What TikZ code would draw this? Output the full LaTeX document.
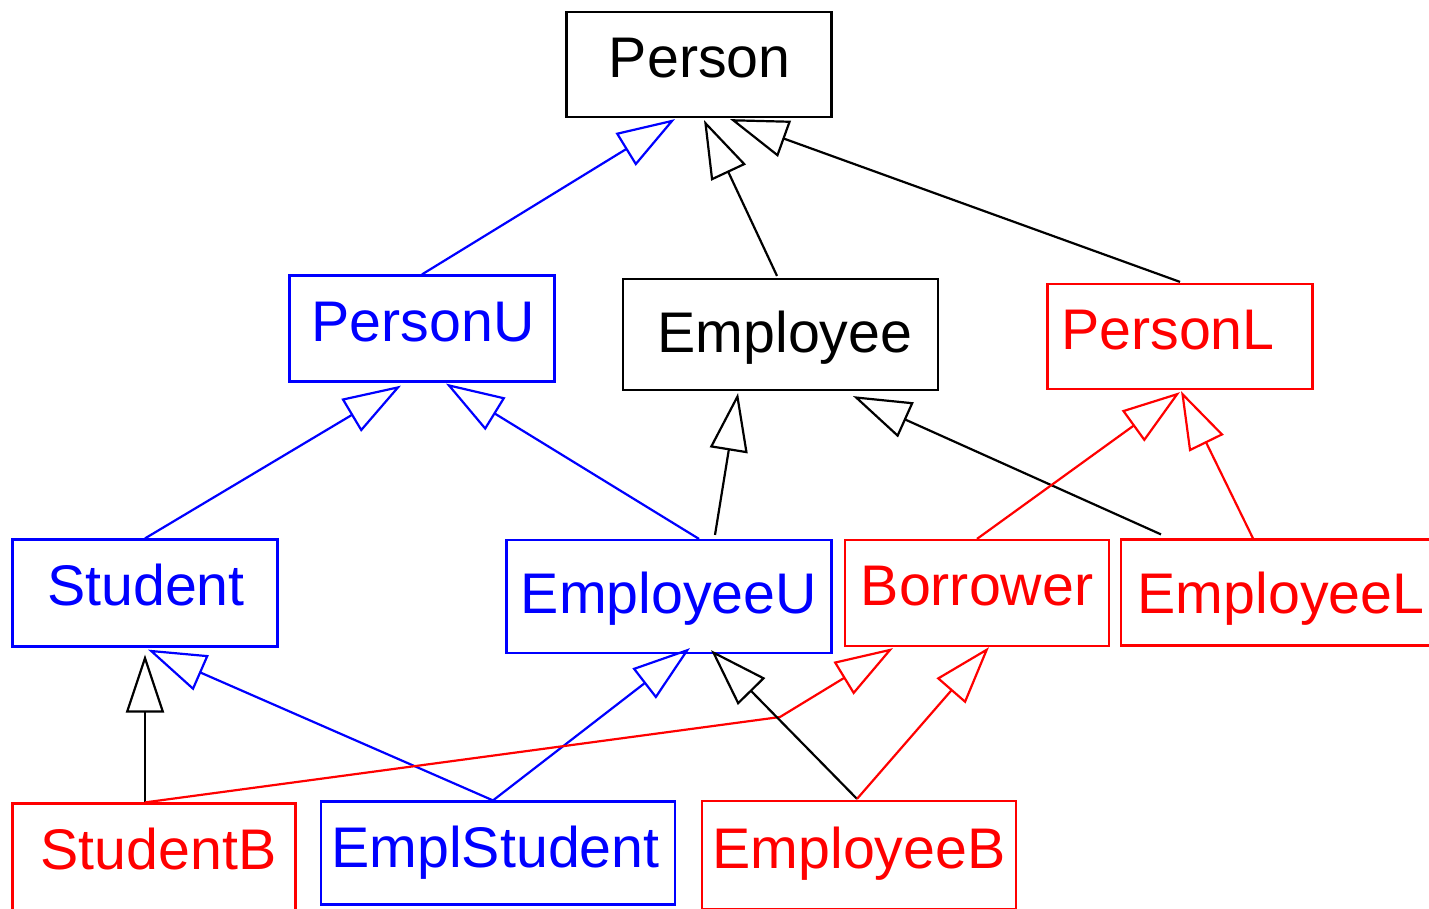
\documentclass[tikz,border=0pt]{standalone}
\usepackage{fontspec}
\setmainfont{Liberation Sans}
\usetikzlibrary{arrows.meta,calc}
\definecolor{cblue}{RGB}{0,0,255}
\definecolor{cred}{RGB}{255,0,0}
\begin{document}
\begin{tikzpicture}[x=1pt,y=-1pt,
  cls/.style={draw, rectangle, line width=2.2pt, inner sep=0pt, text depth=0pt,
    font=\fontsize{57.3pt}{68pt}\selectfont},
  inh/.style={line width=2.2pt, -{Triangle[open, length=58pt, width=38pt]}}]
\useasboundingbox (0,0) rectangle (1429,908);
\clip (0,0) rectangle (1429,908);
% classes
\node[cls, minimum width=265, minimum height=105, text height=25.4pt] (person) at (699,64.5) {\hspace*{1.4pt}Person};
\node[cls, cblue, minimum width=265, minimum height=106, text height=25.6pt] (personU) at (422,328.5) {\hspace*{2pt}PersonU};
\node[cls, minimum width=315, minimum height=111, text height=36pt] (employee) at (780.5,334.5) {\hspace*{9pt}Employee};
\node[cls, cred, minimum width=265, minimum height=105, text height=25pt] (personL) at (1180,336.5) {PersonL\hspace*{24pt}};
\node[cls, cblue, minimum width=265, minimum height=107, text height=25.6pt] (student) at (145,593) {\hspace*{2pt}Student};
\node[cls, cblue, minimum width=325, minimum height=113, text height=34.4pt] (employeeU) at (669,596.5) {EmployeeU};
\node[cls, cred, minimum width=264, minimum height=106, text height=25.4pt] (borrower) at (977,593) {Borrower};
\node[cls, cred, minimum width=320, minimum height=106, text height=42pt] (employeeL) at (1281,592.5) {EmployeeL};
\node[cls, cred, minimum width=283, minimum height=110, text height=22pt] (studentB) at (154,858.5) {\hspace*{9pt}StudentB};
\node[cls, cblue, minimum width=354, minimum height=103, text height=28.4pt] (emplStudent) at (498,853) {EmplStudent\hspace*{5pt}};
\node[cls, cred, minimum width=314, minimum height=108, text height=26.6pt] (employeeB) at (859,855) {EmployeeB};
% generalisations
\draw[inh, cblue] (personU.north) -- ($(person.south)+(-24,1)$);
\draw[inh] ($(employee.north)+(-3.5,-2)$) -- ($(person.south)+(5,2)$);
\draw[inh] ($(personL.north)+(0,-1)$) -- ($(person.south)+(31,1)$);
\draw[inh, cblue] (student.north) -- ($(personU.south)+(-21,3)$);
\draw[inh, cblue] ($(employeeU.north)+(30,0)$) -- ($(personU.south)+(24,1)$);
\draw[inh] ($(employeeU.north)+(46,-4)$) -- ($(employee.south)+(-42.5,2)$);
\draw[inh] ($(employeeL.north)+(-120,-4)$) -- ($(employee.south)+(72.5,5)$);
\draw[inh, cred] (borrower.north) -- ($(personL.south)+(0,2)$);
\draw[inh, cred] ($(employeeL.north)+(-28,0)$) -- ($(personL.south)+(1,1)$);
\draw[inh] ($(studentB.north)+(-9,0)$) -- ($(student.south)+(0,7)$);
\draw[inh, cblue] ($(emplStudent.north)+(-5,0)$) -- ($(student.south)+(3,2)$);
\draw[inh, cblue] ($(emplStudent.north)+(-5,0)$) -- ($(employeeU.south)+(21,-6)$);
\coordinate (bend) at (780,717);
\draw[inh, cred] ($(studentB.north)+(-9,0)$) -- (bend) -- ($(borrower.south)+(-84,1)$);
\draw[inh] ($(employeeB.north)+(-2,-1)$) -- ($(employeeU.south)+(42,-4)$);
\draw[inh, cred] ($(employeeB.north)+(-2,-1)$) -- ($(borrower.south)+(12,0)$);
\end{tikzpicture}
\end{document}
